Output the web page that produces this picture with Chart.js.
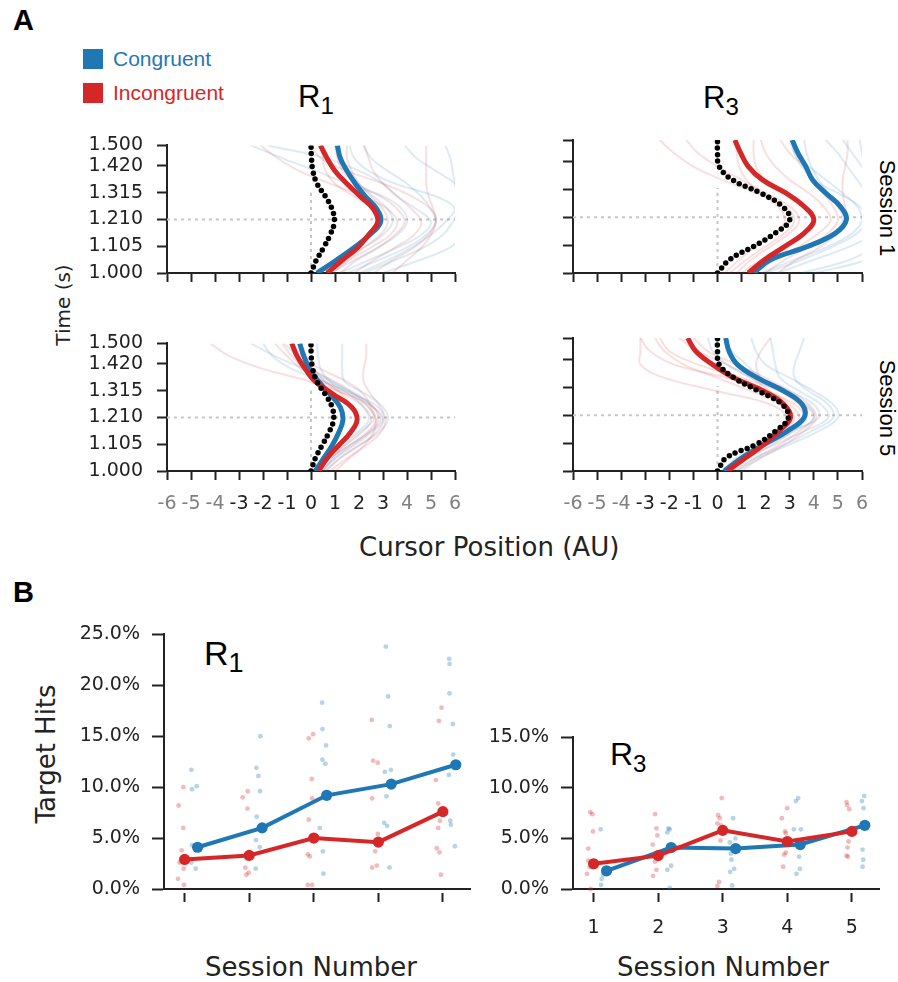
<!DOCTYPE html>
<html>
<head>
<meta charset="utf-8">
<script src="https://cdn.jsdelivr.net/npm/chart.js@4.4.1/dist/chart.umd.min.js"></script>
<style>
body { margin: 0; background: #fff; }
#fig { position: relative; width: 898px; height: 982px; overflow: hidden; font-family: "Liberation Sans", Arial, sans-serif; color: #222; }
.cv { position: absolute; }
.lbl { position: absolute; white-space: nowrap; line-height: 1; }
.dv { font-family: "DejaVu Sans", sans-serif; }
.sq { position: absolute; width: 20px; height: 20px; }
</style>
</head>
<body>
<div id="fig">
  <div class="lbl" style="left:13px;top:6px;font-size:29px;font-weight:bold;color:#000">A</div>
  <div class="lbl" style="left:13px;top:578px;font-size:29px;font-weight:bold;color:#000">B</div>

  <div class="sq" style="left:83px;top:49px;background:#1f77b4"></div>
  <div class="lbl" style="left:113px;top:48px;font-size:21px;color:#1f77b4">Congruent</div>
  <div class="sq" style="left:83px;top:83px;background:#d62728"></div>
  <div class="lbl" style="left:113px;top:82px;font-size:21px;color:#d62728">Incongruent</div>

  <div class="lbl" style="left:298px;top:81px;font-size:31px;color:#000">R<span style="font-size:24px;position:relative;top:7px">1</span></div>
  <div class="lbl" style="left:703px;top:82px;font-size:31px;color:#000">R<span style="font-size:24px;position:relative;top:7px">3</span></div>

  <div class="lbl" style="left:887px;top:208px;font-size:22px;color:#000;transform:translate(-50%,-50%) rotate(90deg)">Session 1</div>
  <div class="lbl" style="left:887px;top:408px;font-size:22px;color:#000;transform:translate(-50%,-50%) rotate(90deg)">Session 5</div>
  <div class="lbl dv" style="left:63px;top:305px;font-size:20px;transform:translate(-50%,-50%) rotate(-90deg)">Time (s)</div>
  <div class="lbl dv" style="left:359px;top:534px;font-size:26px">Cursor Position (AU)</div>

  <div class="lbl" style="left:204px;top:636px;font-size:34px;color:#000">R<span style="font-size:27px;position:relative;top:7px">1</span></div>
  <div class="lbl" style="left:610px;top:738px;font-size:32px;color:#000">R<span style="font-size:24px;position:relative;top:7px">3</span></div>

  <div class="lbl dv" style="left:46px;top:754px;font-size:26px;transform:translate(-50%,-50%) rotate(-90deg)">Target Hits</div>
  <div class="lbl dv" style="left:311px;top:967px;font-size:26px;transform:translate(-50%,-50%)">Session Number</div>
  <div class="lbl dv" style="left:723px;top:967px;font-size:26px;transform:translate(-50%,-50%)">Session Number</div>
</div>
<script>
// time samples (s) used for every cursor trace
var timeSamples = [1.00, 1.05, 1.10, 1.15, 1.20, 1.25, 1.30, 1.35, 1.40, 1.45, 1.50];
var timeTicks = [1.000, 1.105, 1.210, 1.315, 1.420, 1.500];
var cursorTicks = [-6, -5, -4, -3, -2, -1, 0, 1, 2, 3, 4, 5, 6];
var guideTime = 1.21;
var guideTop = 1.32;

// R1 session 1
var r1s1Blue = [0.25, 1.05, 1.8, 2.45, 2.9, 2.75, 2.26, 1.85, 1.5, 1.22, 1.1];
var r1s1Red = [0.67, 1.3, 1.95, 2.4, 2.78, 2.6, 2.05, 1.5, 1.0, 0.67, 0.39];
var r1s1Ideal = [0, 0.22, 0.53, 0.8, 0.97, 0.88, 0.6, 0.25, 0.08, 0.02, 0];
var r1s1BlueTrials = [
  [0.8, 1.8, 2.8, 3.6, 4.0, 3.8, 3.0, 1.5, 0.2, -1.2, -2.5],
  [1.5, 2.8, 4.0, 4.8, 5.2, 5.0, 4.6, 4.0, 3.2, 2.5, 2.2],
  [2.2, 3.5, 4.7, 5.5, 5.9, 6.2, 6.4, 6.0, 5.2, 4.4, 3.9],
  [3.0, 4.5, 5.8, 6.3, 6.5, 6.3, 6.1, 6.0, 5.9, 5.8, 5.6],
  [0.6, 1.3, 2.2, 3.0, 3.4, 3.2, 2.6, 2.0, 1.6, 1.2, 1.0],
  [2.0, 3.2, 4.2, 5.0, 5.6, 6.0, 5.2, 3.5, 2.4, 1.8, 1.6],
  [1.2, 2.4, 3.6, 4.6, 5.0, 4.4, 3.6, 3.0, 2.0, 0.6, -1.8]
];
var r1s1RedTrials = [
  [0.9, 1.6, 2.5, 3.3, 3.6, 3.2, 2.2, 0.8, -0.5, -1.4, -2.1],
  [1.8, 2.6, 3.5, 4.3, 4.6, 4.2, 3.6, 3.0, 2.6, 2.4, 2.2],
  [0.4, 1.0, 1.8, 2.5, 2.9, 2.6, 1.8, 1.0, 0.6, 0.5, 0.5],
  [2.6, 3.4, 4.3, 4.9, 5.2, 5.1, 4.9, 4.8, 4.8, 4.8, 4.8],
  [1.2, 1.9, 2.8, 3.5, 3.9, 3.6, 2.9, 1.9, 1.3, 1.1, 1.0],
  [0.7, 1.5, 2.2, 2.9, 3.2, 3.0, 2.5, 2.0, 1.7, 1.5, 1.5],
  [3.4, 4.0, 4.6, 5.0, 5.2, 5.0, 4.2, 3.0, 1.5, 0.4, 0.0]
];

// R3 session 1
var r3s1Blue = [1.5, 2.2, 3.75, 4.9, 5.35, 5.1, 4.5, 3.95, 3.67, 3.35, 3.1];
var r3s1Red = [1.28, 1.95, 2.8, 3.6, 4.0, 3.6, 2.85, 1.87, 1.28, 0.97, 0.72];
var r3s1Ideal = [0, 0.5, 1.5, 2.4, 3.0, 2.7, 1.8, 0.62, 0.07, 0, 0];
var r3s1BlueTrials = [
  [2.5, 4.0, 5.5, 6.5, 6.8, 6.6, 6.2, 5.8, 5.4, 5.0, 4.5],
  [1.8, 3.2, 4.6, 5.6, 6.0, 5.8, 5.2, 4.5, 3.8, 3.2, 3.0],
  [3.5, 5.5, 6.5, 7.0, 7.0, 6.8, 6.5, 6.3, 6.1, 6.0, 5.9],
  [1.2, 2.4, 3.8, 4.8, 5.2, 5.0, 4.6, 4.2, 3.9, 3.7, 3.6],
  [4.0, 6.2, 7.0, 7.0, 7.0, 7.0, 6.8, 6.4, 6.0, 5.6, 5.2],
  [2.0, 3.5, 4.8, 5.8, 6.2, 5.9, 5.0, 4.0, 3.5, 3.2, 3.1]
];
var r3s1RedTrials = [
  [0.5, 1.2, 2.0, 2.8, 3.2, 2.8, 1.6, 0.2, -1.0, -1.8, -2.4],
  [1.0, 1.8, 2.8, 3.6, 4.0, 3.6, 2.8, 2.0, 1.6, 1.5, 1.5],
  [1.6, 2.4, 3.4, 4.2, 4.7, 4.4, 3.8, 3.0, 2.4, 2.0, 1.8],
  [2.5, 3.3, 4.3, 5.0, 5.4, 5.3, 5.2, 5.2, 5.3, 5.4, 5.4],
  [0.8, 1.4, 2.2, 3.0, 3.4, 3.0, 2.0, 1.0, 0.0, -0.8, -1.3],
  [2.0, 2.8, 3.8, 4.6, 5.0, 4.8, 4.4, 4.0, 3.6, 3.0, 2.6],
  [0.3, 0.9, 1.6, 2.4, 2.8, 2.5, 1.8, 1.2, 0.9, 0.8, 0.8]
];

// R1 session 5
var r1s5Blue = [0.18, 0.53, 0.88, 1.15, 1.33, 1.22, 0.8, 0.32, -0.06, -0.3, -0.47];
var r1s5Red = [0.32, 0.67, 1.15, 1.64, 1.92, 1.7, 0.94, 0.18, -0.24, -0.58, -0.8];
var r1s5Ideal = [0, 0.18, 0.46, 0.74, 0.94, 0.88, 0.6, 0.25, 0.07, 0.01, 0];
var r1s5BlueTrials = [
  [0.3, 0.8, 1.6, 2.4, 2.9, 2.6, 1.8, 0.8, -0.3, -1.5, -2.5],
  [0.6, 1.2, 2.0, 2.8, 3.2, 3.0, 2.3, 1.4, 1.3, 1.3, 1.3],
  [0.2, 0.6, 1.2, 1.9, 2.4, 2.2, 1.6, 0.8, 0.4, 0.3, 0.25],
  [0.4, 1.0, 1.8, 2.5, 3.0, 2.8, 1.8, 0.5, -0.8, -1.6, -2.0],
  [0.5, 0.9, 1.4, 2.0, 2.6, 2.4, 1.8, 0.9, 0.0, -0.6, -1.1]
];
var r1s5RedTrials = [
  [0.6, 1.2, 2.0, 2.7, 3.0, 2.6, 1.5, 0.0, -2.0, -3.4, -4.2],
  [0.3, 0.8, 1.6, 2.3, 2.7, 2.4, 1.6, 0.6, -0.4, -1.0, -1.5],
  [0.8, 1.5, 2.3, 2.9, 3.1, 2.9, 2.5, 2.2, 2.2, 2.3, 2.3],
  [0.2, 0.7, 1.4, 2.1, 2.5, 2.2, 1.4, 0.5, -0.3, -0.8, -1.2],
  [0.5, 1.0, 1.7, 2.4, 2.8, 2.6, 1.9, 1.0, 0.0, -0.6, -0.9],
  [1.0, 1.6, 2.2, 2.6, 2.7, 2.5, 2.2, 1.5, 0.4, -0.4, -0.8],
  [0.1, 0.5, 1.1, 1.6, 1.9, 1.7, 1.3, 0.6, 0.1, -0.2, -0.4]
];

// R3 session 5
var r3s5Blue = [0.28, 1.03, 1.93, 2.9, 3.59, 3.52, 2.76, 1.66, 0.83, 0.48, 0.34];
var r3s5Red = [0.41, 1.17, 1.93, 2.55, 3.03, 2.76, 1.93, 0.69, -0.2, -0.9, -1.24];
var r3s5Ideal = [0, 0.37, 1.6, 2.41, 2.94, 2.69, 1.72, 0.69, 0.07, 0, 0];
var r3s5BlueTrials = [
  [0.4, 1.2, 2.4, 3.6, 4.6, 4.3, 3.4, 2.6, 2.4, 2.3, 2.2],
  [0.6, 1.6, 2.8, 3.9, 4.8, 4.6, 3.8, 3.2, 3.2, 3.4, 3.6],
  [0.2, 0.8, 1.8, 3.0, 4.2, 4.0, 3.0, 1.8, 1.2, 0.6, 0.3],
  [0.8, 1.8, 3.0, 4.2, 5.0, 4.8, 4.0, 3.0, 2.0, 1.6, 1.4],
  [0.3, 1.0, 2.1, 3.2, 4.0, 3.7, 2.6, 1.4, 0.4, -0.2, -0.4]
];
var r3s5RedTrials = [
  [0.5, 1.2, 2.1, 3.0, 3.6, 3.2, 2.0, 0.4, -1.8, -2.8, -3.2],
  [0.8, 1.6, 2.6, 3.4, 4.0, 3.6, 2.6, 1.0, -0.8, -2.0, -2.4],
  [0.3, 1.0, 1.9, 2.6, 2.9, 2.2, 0.0, -2.2, -3.2, -3.2, -3.2],
  [1.0, 1.8, 2.8, 3.6, 4.1, 3.8, 3.0, 2.0, 0.8, -0.4, -1.0],
  [0.4, 1.1, 2.0, 2.8, 3.4, 3.0, 2.2, 1.4, 0.4, -0.8, -1.6],
  [0.6, 1.3, 2.3, 3.1, 3.7, 3.4, 2.6, 1.8, 1.6, 1.8, 2.2],
  [0.2, 0.9, 1.8, 2.6, 3.2, 2.6, 1.4, 0.0, -1.4, -2.2, -2.6]
];

// panel B: target hits (%)
var sessions = [1, 2, 3, 4, 5];
var blueShift = 0.2;
var r1HitBlue = [4.1, 6.0, 9.2, 10.3, 12.2];
var r1HitRed = [2.9, 3.3, 5.0, 4.6, 7.6];
var r3HitBlue = [1.8, 4.1, 4.0, 4.4, 6.3];
var r3HitRed = [2.5, 3.3, 5.8, 4.7, 5.7];

var r1BlueDotX = [1.103, 1.114, 1.186, 1.114, 1.103, 1.171,
  2.111, 2.142, 2.168, 2.173, 2.116, 2.106, 2.163, 2.101,
  3.129, 3.134, 3.191, 3.134, 3.181, 3.093, 3.14, 3.15,
  4.116, 4.152, 4.178, 4.101, 4.194, 4.127, 4.09, 4.137, 4.173,
  5.098, 5.103, 5.103, 5.155, 5.16, 5.093, 5.114, 5.124, 5.186];
var r1BlueDotY = [11.7, 9.8, 10.1, 4.3, 2.6, 2.0,
  11.9, 11.1, 9.6, 15.0, 7.1, 4.8, 4.1, 2.0,
  18.3, 15.7, 14.1, 12.7, 12.3, 6.0, 3.7, 1.5,
  23.8, 18.9, 16.0, 11.5, 11.7, 9.1, 6.5, 6.2, 2.1,
  22.6, 22.1, 19.2, 16.2, 13.2, 11.2, 6.7, 6.3, 4.2];
var r1RedDotX = [0.907, 0.979, 0.979, 0.953, 0.922, 0.984, 0.897, 0.99,
  1.899, 1.977, 1.972, 1.966, 1.94, 1.992, 1.956,
  2.922, 2.99, 2.969, 2.974, 2.922, 2.907, 2.938, 2.907, 2.974,
  3.899, 3.92, 3.992, 3.904, 3.992, 3.951, 3.904, 3.977,
  4.979, 4.938, 4.891, 4.928, 4.953, 4.928, 4.907, 4.948, 4.969];
var r1RedDotY = [8.2, 10.0, 6.0, 3.8, 2.6, 2.0, 1.0, 0.4,
  9.0, 9.6, 7.9, 3.0, 2.1, 1.6, 1.4,
  14.8, 15.2, 10.8, 8.9, 6.8, 3.4, 3.2, 0.4, 0.4,
  16.6, 12.6, 12.4, 8.9, 5.4, 3.7, 2.1, 2.3,
  17.8, 16.5, 10.7, 8.4, 6.7, 6.0, 4.0, 3.6, 1.4];

var r3BlueDotX = [1.109, 1.124, 1.114, 1.145,
  2.158, 2.178, 2.142, 2.199, 2.142, 2.178,
  3.16, 3.196, 3.109, 3.124, 3.134, 3.176, 3.114, 3.145,
  4.168, 4.132, 4.101, 4.209, 4.183, 4.194, 4.142,
  5.191, 5.155, 5.181, 5.165, 5.176, 5.165];
var r3BlueDotY = [5.9, 1.0, 0.4, 1.4,
  6.0, 5.9, 5.6, 2.3, 1.9, 0.1,
  7.0, 5.0, 4.6, 3.5, 2.9, 2.0, 1.7, 0.35,
  9.0, 8.7, 5.9, 5.9, 3.2, 2.0, 1.5,
  9.2, 8.7, 8.0, 3.9, 2.9, 2.2];
var r3RedDotX = [0.948, 0.979, 0.99, 0.917, 0.917, 0.938, 0.897, 0.953,
  1.951, 1.972, 1.987, 1.915, 1.951, 1.972, 1.92,
  2.984, 2.928, 2.953, 2.917, 2.974, 2.964, 2.943, 2.917,
  3.997, 3.915, 3.966, 3.977, 3.977, 3.951, 3.935,
  4.917, 4.928, 4.959, 4.948, 4.933, 4.917, 4.938];
var r3RedDotY = [7.6, 7.4, 5.7, 4.0, 2.8, 2.2, 1.5, 0.0,
  7.4, 6.0, 5.3, 4.4, 2.7, 1.9, 1.3,
  9.0, 7.3, 7.0, 6.5, 6.3, 4.8, 0.7, 0.3,
  8.0, 7.0, 5.7, 5.5, 3.6, 3.4, 2.2,
  8.6, 8.3, 7.9, 4.7, 4.1, 3.3, 3.2];

Chart.defaults.animation = false;
Chart.defaults.events = [];
Chart.defaults.font.family = '"DejaVu Sans", sans-serif';
Chart.defaults.plugins.legend.display = false;
Chart.defaults.plugins.tooltip.enabled = false;

var BLUE = '#1f77b4', RED = '#d62728', INK = '#222';
var BLUE_FAINT = 'rgba(31,119,180,0.15)', RED_FAINT = 'rgba(214,39,40,0.15)';
var BLUE_DOT = 'rgba(31,119,180,0.32)', RED_DOT = 'rgba(214,39,40,0.32)';

// canvas placed so that its chart area lands on `area`
function mountCanvas(area, yw, xh, pad) {
  var c = document.createElement('canvas');
  var w = yw + area.w + pad.r, h = pad.t + area.h + xh;
  c.width = w; c.height = h;
  c.className = 'cv';
  c.style.left = (area.l - yw) + 'px';
  c.style.top = (area.t - pad.t) + 'px';
  c.style.width = w + 'px';
  c.style.height = h + 'px';
  document.getElementById('fig').appendChild(c);
  return c;
}

function toPoints(xs) {
  return xs.map(function (v, i) { return { x: v, y: timeSamples[i] }; });
}

function cursorPanel(area, showY, showX, blue, red, ideal, blueTrials, redTrials) {
  var yw = 110, xh = 50, pad = { t: 20, r: 20 };
  var ds = [];
  ds.push({ data: [{ x: -6, y: guideTime }, { x: 6, y: guideTime }], borderColor: '#c6c6c6', borderWidth: 2, borderDash: [3, 4], tension: 0.01, order: 30 });
  ds.push({ data: [{ x: 0, y: 1 }, { x: 0, y: guideTop }], borderColor: '#c6c6c6', borderWidth: 2, borderDash: [3, 4], tension: 0.01, order: 30 });
  blueTrials.forEach(function (tr) {
    ds.push({ data: toPoints(tr), borderColor: BLUE_FAINT, borderWidth: 2, order: 20 });
  });
  redTrials.forEach(function (tr) {
    ds.push({ data: toPoints(tr), borderColor: RED_FAINT, borderWidth: 2, order: 20 });
  });
  ds.push({ data: toPoints(blue), borderColor: BLUE, borderWidth: 5, order: 3 });
  ds.push({ data: toPoints(red), borderColor: RED, borderWidth: 5, order: 2 });
  ds.push({ data: toPoints(ideal), borderColor: '#000', borderWidth: 5.5, borderDash: [0, 6.5], borderCapStyle: 'round', order: 1 });
  ds.forEach(function (d) {
    d.pointRadius = 0;
    d.fill = false;
    if (d.tension === undefined) d.tension = 0.4;
  });

  new Chart(mountCanvas(area, yw, xh, pad), {
    type: 'line',
    data: { datasets: ds },
    options: {
      responsive: false,
      layout: { padding: { top: pad.t, right: pad.r, left: 0, bottom: 0 } },
      scales: {
        x: {
          type: 'linear', min: -6, max: 6,
          afterBuildTicks: function (s) { s.ticks = cursorTicks.map(function (v) { return { value: v }; }); },
          afterFit: function (s) { s.height = xh; },
          ticks: {
            display: showX, autoSkip: false, maxRotation: 0, padding: 13,
            font: { size: 19 },
            color: function (c) { return Math.abs(c.tick.value) >= 4 ? '#808080' : INK; },
            callback: function (v) { return String(v); }
          },
          grid: { display: true, drawOnChartArea: false, drawTicks: true, tickLength: 9, tickWidth: 2, tickColor: INK },
          border: { display: true, width: 2, color: INK }
        },
        y: {
          type: 'linear', min: 1.0, max: 1.5,
          afterBuildTicks: function (s) { s.ticks = timeTicks.map(function (v) { return { value: v }; }); },
          afterFit: function (s) { s.width = yw; },
          ticks: {
            display: showY, autoSkip: false, padding: 14, color: INK,
            font: { size: 19 },
            callback: function (v) { return Number(v).toFixed(3); }
          },
          grid: { display: true, drawOnChartArea: false, drawTicks: true, tickLength: 10, tickWidth: 2, tickColor: INK },
          border: { display: true, width: 2, color: INK }
        }
      }
    }
  });
}

function hitsPanel(area, yMax, showX, blueMean, redMean, bx, by, rx, ry) {
  var yw = 110, xh = 50, pad = { t: 20, r: 16 };
  var dots = function (xs, ys) { return xs.map(function (x, i) { return { x: x, y: ys[i] }; }); };
  var ds = [
    { data: dots(bx, by), showLine: false, pointRadius: 2.4, pointBackgroundColor: BLUE_DOT, pointBorderWidth: 0, order: 4 },
    { data: dots(rx, ry), showLine: false, pointRadius: 2.4, pointBackgroundColor: RED_DOT, pointBorderWidth: 0, order: 3 },
    { data: sessions.map(function (s, i) { return { x: s + blueShift, y: blueMean[i] }; }),
      borderColor: BLUE, borderWidth: 4, pointRadius: 5.6, pointBackgroundColor: BLUE, pointBorderWidth: 0, order: 2 },
    { data: sessions.map(function (s, i) { return { x: s, y: redMean[i] }; }),
      borderColor: RED, borderWidth: 4, pointRadius: 5.6, pointBackgroundColor: RED, pointBorderWidth: 0, order: 1 }
  ];
  ds.forEach(function (d) { d.tension = 0; d.fill = false; });

  new Chart(mountCanvas(area, yw, xh, pad), {
    type: 'line',
    data: { datasets: ds },
    options: {
      responsive: false,
      clip: false,
      layout: { padding: { top: pad.t, right: pad.r, left: 0, bottom: 0 } },
      scales: {
        x: {
          type: 'linear', min: 0.68, max: 5.42,
          afterBuildTicks: function (s) { s.ticks = sessions.map(function (v) { return { value: v }; }); },
          afterFit: function (s) { s.height = xh; },
          ticks: { display: showX, autoSkip: false, maxRotation: 0, padding: 15, color: INK, font: { size: 19 } },
          grid: { display: true, drawOnChartArea: false, drawTicks: true, tickLength: 13, tickWidth: 2, tickColor: INK, tickBorderDash: [0, 3, 10, 30] },
          border: { display: true, width: 2, color: INK }
        },
        y: {
          type: 'linear', min: 0, max: yMax,
          afterBuildTicks: function (s) {
            var t = [];
            for (var v = 0; v <= yMax; v += 5) t.push({ value: v });
            s.ticks = t;
          },
          afterFit: function (s) { s.width = yw; },
          ticks: {
            autoSkip: false, padding: 12, color: INK, font: { size: 19 },
            callback: function (v) { return Number(v).toFixed(1) + '%'; }
          },
          grid: { display: true, drawOnChartArea: false, drawTicks: true, tickLength: 12, tickWidth: 2, tickColor: INK },
          border: { display: true, width: 2, color: INK }
        }
      }
    }
  });
}

cursorPanel({ l: 167, t: 140, w: 288, h: 133 }, true, false, r1s1Blue, r1s1Red, r1s1Ideal, r1s1BlueTrials, r1s1RedTrials);
cursorPanel({ l: 573, t: 140, w: 289, h: 133 }, false, false, r3s1Blue, r3s1Red, r3s1Ideal, r3s1BlueTrials, r3s1RedTrials);
cursorPanel({ l: 167, t: 338, w: 288, h: 133 }, true, true, r1s5Blue, r1s5Red, r1s5Ideal, r1s5BlueTrials, r1s5RedTrials);
cursorPanel({ l: 573, t: 338, w: 289, h: 133 }, false, true, r3s5Blue, r3s5Red, r3s5Ideal, r3s5BlueTrials, r3s5RedTrials);

hitsPanel({ l: 164, t: 631, w: 306, h: 258 }, 25, false, r1HitBlue, r1HitRed, r1BlueDotX, r1BlueDotY, r1RedDotX, r1RedDotY);
hitsPanel({ l: 573, t: 734, w: 306, h: 155 }, 15, true, r3HitBlue, r3HitRed, r3BlueDotX, r3BlueDotY, r3RedDotX, r3RedDotY);
</script>
</body>
</html>
